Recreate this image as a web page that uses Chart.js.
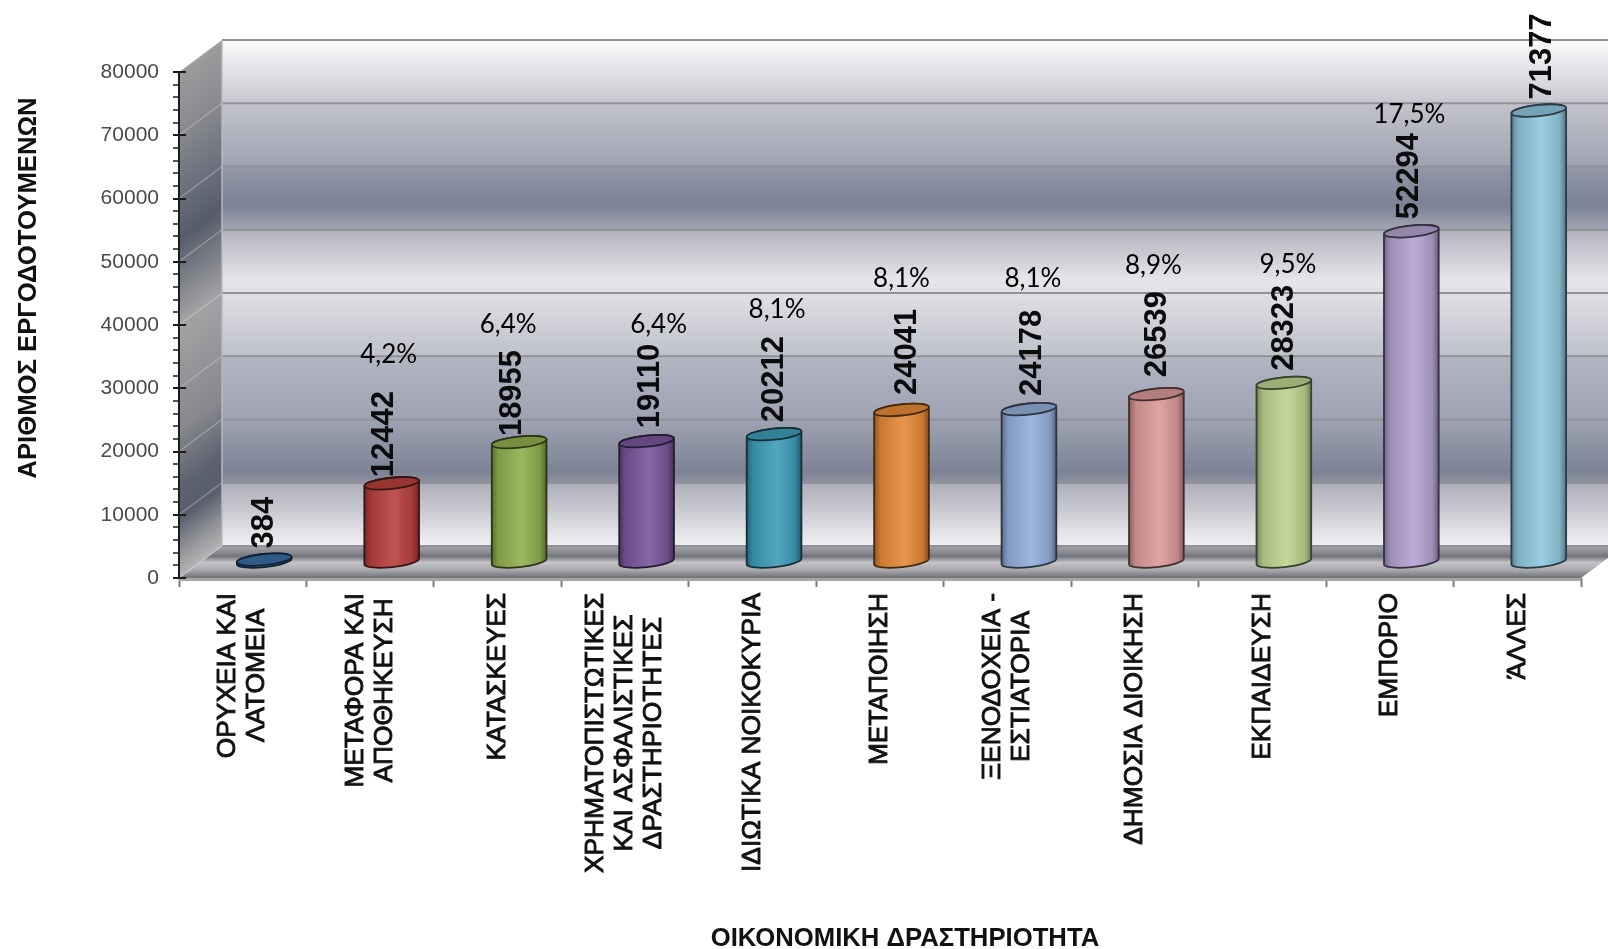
<!DOCTYPE html>
<html>
<head>
  <meta charset="utf-8">
  <title>Εργοδοτούμενοι ανά οικονομική δραστηριότητα</title>
  <script src="https://cdn.jsdelivr.net/npm/chart.js"></script>
  <style>
    html, body { margin: 0; padding: 0; background: #fff; overflow: hidden; }
    canvas { display: block; }
  </style>
</head>
<body>
  <canvas id="employersChart" width="1608" height="949"></canvas>
  <script>
    const categories = [
      ['ΟΡΥΧΕΙΑ ΚΑΙ', 'ΛΑΤΟΜΕΙΑ'],
      ['ΜΕΤΑΦΟΡΑ ΚΑΙ', 'ΑΠΟΘΗΚΕΥΣΗ'],
      ['ΚΑΤΑΣΚΕΥΕΣ'],
      ['ΧΡΗΜΑΤΟΠΙΣΤΩΤΙΚΕΣ', 'ΚΑΙ ΑΣΦΑΛΙΣΤΙΚΕΣ', 'ΔΡΑΣΤΗΡΙΟΤΗΤΕΣ'],
      ['ΙΔΙΩΤΙΚΑ ΝΟΙΚΟΚΥΡΙΑ'],
      ['ΜΕΤΑΠΟΙΗΣΗ'],
      ['ΞΕΝΟΔΟΧΕΙΑ -', 'ΕΣΤΙΑΤΟΡΙΑ'],
      ['ΔΗΜΟΣΙΑ ΔΙΟΙΚΗΣΗ'],
      ['ΕΚΠΑΙΔΕΥΣΗ'],
      ['ΕΜΠΟΡΙΟ'],
      ['ΆΛΛΕΣ']
    ];
    const employers = [384, 12442, 18955, 19110, 20212, 24041, 24178, 26539, 28323, 52294, 71377];
    const percents = [null, '4,2%', '6,4%', '6,4%', '8,1%', '8,1%', '8,1%', '8,9%', '9,5%', '17,5%', null];
    const yAxisTitle = 'ΑΡΙΘΜΟΣ ΕΡΓΟΔΟΤΟΥΜΕΝΩΝ';
    const xAxisTitle = 'ΟΙΚΟΝΟΜΙΚΗ ΔΡΑΣΤΗΡΙΟΤΗΤΑ';

    const barColors = ['#3b6ea5', '#b8413e', '#8fb04e', '#7a569c', '#3f9db8', '#e58a39',
                       '#94aedb', '#dc9a99', '#bcd58f', '#b5a3d1', '#90c8de'];

    // the labels were placed by hand in the original, so each gets its own nudge from the bar top
    const pctOffsets = [null, [-3, -145], [-11, -134], [12, -133], [3, -141], [0, -147],
                        [4, -146], [-3, -145], [4, -134], [-2, -133], null];
    const valueNudges = [[-3, 0], [-10, 5], [-10, 5], [1, -2], [-3, -1], [3, -4],
                         [0, -2], [-2, -6], [-2, -1], [-5, -1], [1, 0]];

    const DEPTH_X = 43, DEPTH_Y = 32;
    const SANS = '"Liberation Sans", Arial, sans-serif';

    function shade(hex, f) {
      const n = parseInt(hex.slice(1), 16);
      const c = [n >> 16, (n >> 8) & 255, n & 255].map(v =>
        Math.round(f < 1 ? v * f : v + (255 - v) * (f - 1)));
      return `rgb(${c[0]},${c[1]},${c[2]})`;
    }

    function addStops(g, y0, y1, stops) {
      stops.forEach(s => g.addColorStop((s[0] - y0) / (y1 - y0), s[1]));
    }

    function drawWalls(chart) {
      const { ctx, chartArea: a, scales } = chart;
      const y = scales.y;
      const W = chart.width;
      const backL = a.left + DEPTH_X, backT = a.top - DEPTH_Y, backB = a.bottom - DEPTH_Y;

      // back wall
      let g = ctx.createLinearGradient(0, backT, 0, backB);
      addStops(g, backT, backB, [
        [backT, '#fbfbfc'], [100, '#c9cad2'], [104, '#c2c3cc'], [164, '#a0a3b2'], [168, '#9296a7'],
        [205, '#7b8294'], [228, '#a0a3b0'], [233, '#b5b6bf'], [280, '#e5e5ea'], [296, '#dedee4'],
        [355, '#bfc1cb'], [359, '#b1b4c1'], [420, '#9ea2b2'], [472, '#7d8395'], [481, '#8b8f9f'],
        [485, '#b0b1bc'], [510, '#c8c8d0'], [530, '#e0e0e5'], [backB, '#f0f0f4']
      ]);
      ctx.fillStyle = g;
      ctx.fillRect(backL, backT, W - backL, backB - backT);

      // side wall, sheared so the bands follow the depth
      ctx.save();
      ctx.beginPath();
      ctx.moveTo(a.left, a.top);
      ctx.lineTo(backL, backT);
      ctx.lineTo(backL, backB);
      ctx.lineTo(a.left, a.bottom);
      ctx.closePath();
      ctx.clip();
      ctx.transform(1, -DEPTH_Y / DEPTH_X, 0, 1, 0, a.left * DEPTH_Y / DEPTH_X);
      g = ctx.createLinearGradient(0, a.top, 0, a.bottom);
      addStops(g, a.top, a.bottom, [
        [a.top, '#9c9c9e'], [130, '#8a8b90'], [195, '#6b6f7c'], [240, '#565c6b'], [270, '#72757f'],
        [325, '#a3a3a5'], [430, '#87888d'], [490, '#5c6170'], [520, '#5a5f6d'], [550, '#8f9095'],
        [a.bottom, '#b5b5b6']
      ]);
      ctx.fillStyle = g;
      ctx.fillRect(a.left, a.top - 60, DEPTH_X, a.bottom - a.top + 120);
      ctx.restore();

      // floor
      g = ctx.createLinearGradient(0, backB, 0, a.bottom);
      g.addColorStop(0, '#a3a3a9');
      g.addColorStop(0.2, '#8a8a92');
      g.addColorStop(0.32, '#73737c');
      g.addColorStop(0.52, '#c4c4c8');
      g.addColorStop(0.75, '#a8a8ad');
      g.addColorStop(1, '#6f6f79');
      ctx.fillStyle = g;
      ctx.beginPath();
      ctx.moveTo(a.left, a.bottom);
      ctx.lineTo(backL, backB);
      ctx.lineTo(W, backB);
      ctx.lineTo(W, a.bottom - (W - a.right) * DEPTH_Y / DEPTH_X);
      ctx.lineTo(a.right, a.bottom);
      ctx.closePath();
      ctx.fill();
      ctx.fillStyle = '#a5a5a8';
      ctx.fillRect(a.left, a.bottom, a.right - a.left, 3);

      // gridlines on the back wall and the side wall
      y.ticks.forEach(t => {
        const py = y.getPixelForValue(t.value);
        ctx.strokeStyle = 'rgba(225,225,230,0.35)';
        ctx.lineWidth = 1.5;
        ctx.beginPath();
        ctx.moveTo(a.left, py);
        ctx.lineTo(backL, py - DEPTH_Y);
        ctx.stroke();
        ctx.strokeStyle = '#909096';
        ctx.lineWidth = 2;
        ctx.beginPath();
        ctx.moveTo(backL, py - DEPTH_Y);
        ctx.lineTo(W, py - DEPTH_Y);
        ctx.stroke();
      });
      ctx.strokeStyle = '#b9b9be';
      ctx.lineWidth = 1.5;
      ctx.beginPath();
      ctx.moveTo(backL, backT);
      ctx.lineTo(backL, backB);
      ctx.stroke();
    }

    function drawYAxisLine(chart) {
      const { ctx, chartArea: a, scales } = chart;
      const y = scales.y;
      ctx.strokeStyle = '#1c1c1c';
      ctx.lineWidth = 2;
      ctx.beginPath();
      ctx.moveTo(a.left, a.top);
      ctx.lineTo(a.left, a.bottom);
      ctx.stroke();
      for (let v = y.min; v <= y.max; v += 2000) {
        const py = Math.round(y.getPixelForValue(v));
        const major = v % 10000 === 0;
        ctx.lineWidth = major ? 2 : 1.5;
        ctx.beginPath();
        ctx.moveTo(a.left - 6, py);
        ctx.lineTo(a.left + (major ? 7 : 0), py);
        ctx.stroke();
      }
    }

    function drawCylinders(chart) {
      const { ctx } = chart;
      const meta = chart.getDatasetMeta(0);
      const tilt = -6 * Math.PI / 180;
      meta.data.forEach((bar, i) => {
        const color = barColors[i];
        const cx = bar.x + DEPTH_X / 2;
        const rx = bar.width / 2, ry = 5.6;
        const yTop = bar.y - DEPTH_Y / 2, yBase = bar.base - DEPTH_Y / 2;

        const g = ctx.createLinearGradient(cx - rx, 0, cx + rx, 0);
        g.addColorStop(0, shade(color, 0.62));
        g.addColorStop(0.12, shade(color, 0.88));
        g.addColorStop(0.55, shade(color, 1.1));
        g.addColorStop(0.88, shade(color, 0.88));
        g.addColorStop(1, shade(color, 0.58));

        ctx.beginPath();
        ctx.ellipse(cx, yBase, rx, ry, tilt, 0, Math.PI);
        ctx.ellipse(cx, yTop, rx, ry, tilt, Math.PI, Math.PI * 2);
        ctx.closePath();
        ctx.fillStyle = g;
        ctx.fill();
        ctx.strokeStyle = shade(color, 0.3);
        ctx.lineWidth = 1.8;
        ctx.stroke();

        ctx.beginPath();
        ctx.ellipse(cx, yTop, rx, ry, tilt, 0, Math.PI * 2);
        ctx.fillStyle = shade(color, 0.82);
        ctx.fill();
        ctx.stroke();
      });
    }

    function drawLabels(chart) {
      const { ctx } = chart;
      const meta = chart.getDatasetMeta(0);
      meta.data.forEach((bar, i) => {
        const cx = bar.x + DEPTH_X / 2;
        const yTop = bar.y - DEPTH_Y / 2;
        ctx.save();
        ctx.translate(cx + 3 + valueNudges[i][0], yTop - 11 + valueNudges[i][1]);
        ctx.rotate(-Math.PI / 2);
        ctx.font = 'bold 31px ' + SANS;
        ctx.fillStyle = '#0c0c0c';
        ctx.textAlign = 'left';
        ctx.textBaseline = 'middle';
        ctx.fillText(String(employers[i]), 0, 0);
        ctx.restore();

        if (percents[i]) {
          ctx.font = '26px Lato, "Open Sans", sans-serif';
          ctx.fillStyle = '#000';
          ctx.textAlign = 'center';
          ctx.textBaseline = 'middle';
          ctx.fillText(percents[i], cx + pctOffsets[i][0], bar.y + pctOffsets[i][1]);
        }
      });
    }

    // tick labels are centred line by line, which the rotated native ticks can't do
    function drawCategoryLabels(chart) {
      const { ctx, scales } = chart;
      const x = scales.x;
      const lineGap = 29;
      ctx.font = '26.3px ' + SANS;
      ctx.fillStyle = '#111';
      ctx.strokeStyle = '#111';
      ctx.lineWidth = 0.9;
      ctx.textAlign = 'center';
      ctx.textBaseline = 'middle';
      categories.forEach((lines, i) => {
        const px = x.getPixelForTick(i);
        const longest = Math.max(...lines.map(l => ctx.measureText(l).width));
        lines.forEach((line, k) => {
          ctx.save();
          ctx.translate(px + (k - (lines.length - 1) / 2) * lineGap, 593 + longest / 2);
          ctx.rotate(-Math.PI / 2);
          ctx.fillText(line, 0, 0);
          ctx.strokeText(line, 0, 0);
          ctx.restore();
        });
      });
    }

    function drawTitles(chart) {
      const { ctx } = chart;
      ctx.fillStyle = '#111';
      ctx.font = 'bold 25.7px ' + SANS;
      ctx.textAlign = 'center';
      ctx.textBaseline = 'middle';
      ctx.fillText(xAxisTitle, 905, 939);
      ctx.save();
      ctx.translate(29, 288);
      ctx.rotate(-Math.PI / 2);
      ctx.fillText(yAxisTitle, 0, 0);
      ctx.restore();
    }

    const cylinder3d = {
      id: 'cylinder3d',
      beforeDatasetsDraw(chart) {
        drawWalls(chart);
        drawYAxisLine(chart);
        drawCylinders(chart);
        drawLabels(chart);
        drawCategoryLabels(chart);
        drawTitles(chart);
        return false; // the plain rectangles stay undrawn
      }
    };

    new Chart(document.getElementById('employersChart').getContext('2d'), {
      type: 'bar',
      data: {
        labels: categories,
        datasets: [{
          label: yAxisTitle,
          data: employers,
          backgroundColor: barColors,
          barPercentage: 0.4315,
          categoryPercentage: 1
        }]
      },
      plugins: [cylinder3d],
      options: {
        responsive: false,
        animation: false,
        layout: { padding: { left: 0, top: 72, right: 27, bottom: 0 } },
        plugins: { legend: { display: false }, tooltip: { enabled: false } },
        scales: {
          x: {
            afterFit(scale) { scale.height = 371; },
            ticks: { display: false },
            border: { display: false },
            grid: { offset: true, drawOnChartArea: false, tickLength: 9, tickColor: '#7d7d7d', tickWidth: 2 }
          },
          y: {
            min: 0,
            max: 80000,
            afterFit(scale) { scale.width = 179; },
            border: { display: false },
            grid: { drawOnChartArea: false, drawTicks: false },
            ticks: {
              stepSize: 10000,
              padding: 20,
              color: '#4a4a4a',
              font: { family: SANS, size: 21 },
              callback: v => String(v)
            }
          }
        }
      }
    });
  </script>
</body>
</html>
